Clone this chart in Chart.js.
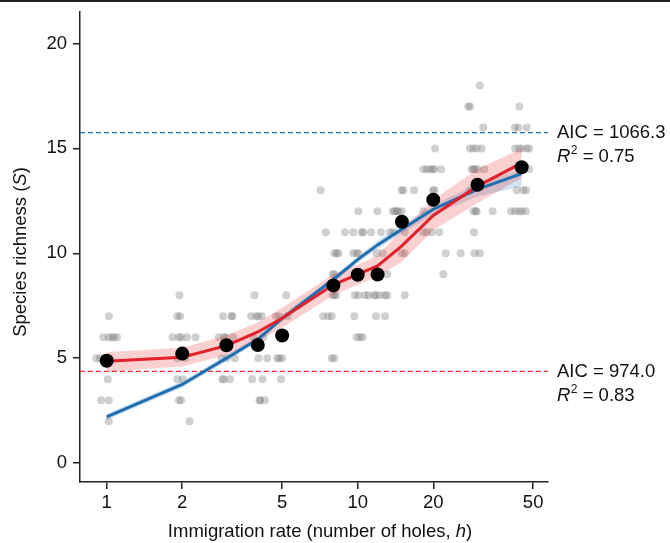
<!DOCTYPE html>
<html lang="en">
<head>
<meta charset="utf-8">
<title>Species richness vs immigration rate</title>
<script src="https://cdn.jsdelivr.net/npm/chart.js@4.4.1/dist/chart.umd.min.js"></script>
<style>
  html, body { margin: 0; padding: 0; background: #fff; }
  #contenedor { width: 670px; height: 543px; }
</style>
</head>
<body>
<div id="contenedor"><canvas id="chartRiqueza" width="670" height="543"></canvas></div>
<script>
// ============================================================================
// Species richness (S) vs immigration rate (holes, h) - log x axis
// ============================================================================

// Mean richness per treatment (black dots)
const holes = [1, 2, 3, 4, 5, 8, 10, 12, 15, 20, 30, 45];
const meanRichness = [4.88, 5.22, 5.62, 5.63, 6.08, 8.47, 8.98, 8.99, 11.5, 12.55, 13.27, 14.1];

// Model fits with their bands
const redFit   = [4.85, 5.05, 5.6, 6.25, 6.9, 8.5, 9.0, 9.4, 10.35, 11.8, 13.2, 14.3];
const redUpper = [5.3, 5.5, 6.1, 6.7, 7.4, 9.0, 9.45, 9.9, 11.1, 12.55, 14.0, 15.0];
const redLower = [4.35, 4.6, 5.15, 5.8, 6.45, 8.0, 8.5, 8.9, 9.6, 11.1, 12.4, 13.6];
const blueFit   = [2.2, 3.75, 5.0, 5.9, 6.9, 8.75, 9.7, 10.4, 11.15, 12.1, 13.05, 13.8];
const blueUpper = [2.35, 3.9, 5.15, 6.05, 7.05, 8.9, 9.85, 10.6, 11.35, 12.3, 13.3, 14.0];
const blueLower = [2.05, 3.6, 4.85, 5.75, 6.75, 8.6, 9.55, 10.2, 10.95, 11.85, 12.7, 13.2];

// Raw replicates (grey, jittered along h)
const grayH = [
  1.02, 0.97, 1.02, 1.05, 1.07, 1.10, 0.91, 0.94, 0.98, 1.03, 1.01, 0.95, 1.02, 1.02,
  1.95, 1.91, 1.96, 1.83, 1.94, 1.98, 2.09, 2.26, 1.92, 2.06, 1.91, 2.01, 1.94, 1.98, 2.14,
  2.91, 3.15, 3.16, 2.80, 2.93, 2.98, 3.19, 2.87, 3.00, 3.24, 2.89, 2.93, 3.10,
  3.88, 3.76, 3.94, 4.02, 4.15, 3.84, 4.21, 4.02, 4.36, 3.80, 4.18, 4.06, 4.09, 4.27,
  5.19, 4.73, 4.88, 5.26, 5.00, 4.78, 4.88, 5.00, 4.95,
  7.12, 7.46, 8.07, 8.25, 8.37, 7.95, 8.07, 7.95, 8.07, 8.20, 7.29, 7.63, 7.88, 7.88, 8.07,
  10.06, 8.90, 9.60, 10.37, 10.53, 11.30, 9.60, 9.91, 10.06, 9.94, 9.75, 10.06, 10.69, 11.02, 9.69, 9.91, 10.21, 10.47,
  11.97, 13.79, 14.30, 12.38, 13.45, 13.86, 11.90, 12.58, 13.12, 11.61, 11.83, 12.27, 12.85, 13.12, 11.83, 12.85,
  14.97, 15.20, 16.76, 14.08, 14.52, 14.97, 15.39, 14.97, 15.39, 15.39,
  20.32, 18.26, 18.83, 19.42, 19.90, 20.20, 21.48, 20.00, 20.20, 18.26, 18.26, 18.83, 19.72, 21.14, 22.42, 25.72, 21.93,
  30.66, 27.58, 28.02, 31.65, 28.02, 28.88, 29.79, 31.19, 28.46, 28.88, 29.33, 30.06, 31.95, 28.02, 28.88, 29.52, 29.79, 34.50, 29.06, 29.14, 30.66,
  44.04, 42.33, 43.63, 47.13, 42.33, 43.92, 45.02, 47.13, 48.14, 45.20, 48.14, 43.00, 45.67, 46.83, 40.82, 42.33, 43.92, 45.02, 46.70
];
const grayS = [
  7, 6, 6, 6, 6, 6, 5, 5, 5, 5, 4, 3, 3, 2,
  8, 7, 7, 6, 6, 6, 6, 6, 5, 5, 4, 4, 3, 3, 2,
  7, 7, 7, 6, 6, 6, 6, 5, 5, 5, 4, 4, 4,
  8, 7, 7, 7, 7, 6, 6, 5, 5, 4, 4, 3, 3, 3,
  8, 7, 7, 7, 6, 5, 5, 5, 4,
  13, 11, 10, 10, 10, 9, 9, 8, 8, 8, 7, 7, 7, 5, 5,
  12, 11, 11, 11, 11, 11, 10, 10, 10, 9, 8, 8, 8, 8, 7, 6, 6, 6,
  12, 12, 12, 11, 11, 11, 10, 10, 9, 8, 8, 8, 8, 8, 7, 7,
  13, 13, 13, 12, 12, 12, 11, 10, 10, 8,
  15, 14, 14, 14, 14, 14, 14, 13, 13, 12, 11, 11, 11, 11, 10, 10, 9,
  18, 17, 17, 16, 15, 15, 15, 15, 14, 14, 14, 14, 14, 13, 12, 12, 12, 12, 11, 10, 10,
  17, 16, 16, 16, 15, 15, 15, 15, 15, 14, 14, 13, 13, 13, 12, 12, 12, 12, 12
];

// Axes
const xTicks = [1, 2, 5, 10, 20, 50];
const yTicks = [0, 5, 10, 15, 20];
const xRange = [0.783, 57.3];
const yRange = [-0.9, 21.5];

// Dashed reference levels and model statistics (blue, red)
const refLevels = [15.75, 4.37];
const aicLabels = ["1066.3", "974.0"];
const r2Labels = ["0.75", "0.83"];

const FUENTE = "'Liberation Sans', Arial, Helvetica, sans-serif";
const TAM = 18.5;
const AZUL = "#1f6eb0";
const ROJO = "#e4202a";

const pares = (xs, ys) => xs.map((x, i) => ({ x, y: ys[i] }));

// ---------------------------------------------------------------------------
// Axis titles (with italic symbols), AIC / R2 labels and the top rule
// ---------------------------------------------------------------------------
function dibujarPartes(ctx, partes, x, y) {
  let total = 0;
  partes.forEach((p) => { ctx.font = p.font; total += ctx.measureText(p.t).width; });
  let xx = x - total / 2;
  partes.forEach((p) => {
    ctx.font = p.font;
    ctx.fillText(p.t, xx, y);
    xx += ctx.measureText(p.t).width;
  });
}

const textoExtra = {
  id: "textoExtra",
  afterDraw(chart) {
    const { ctx, chartArea, scales } = chart;
    const normal = TAM + "px " + FUENTE;
    const italica = "italic " + TAM + "px " + FUENTE;
    ctx.save();
    ctx.fillStyle = "#111";
    ctx.textBaseline = "middle";
    ctx.textAlign = "left";

    // x title
    dibujarPartes(ctx, [
      { t: "Immigration rate (number of holes, ", font: normal },
      { t: "h", font: italica },
      { t: ")", font: normal }
    ], (chartArea.left + chartArea.right) / 2 + 6, 532);

    // y title
    ctx.save();
    ctx.translate(21, (chartArea.top + chartArea.bottom) / 2 + 5);
    ctx.rotate(-Math.PI / 2);
    dibujarPartes(ctx, [
      { t: "Species richness (", font: normal },
      { t: "S", font: italica },
      { t: ")", font: normal }
    ], 0, 0);
    ctx.restore();

    // model statistics
    refLevels.forEach((nivel, i) => {
      const x = chartArea.right + 9;
      const y = scales.y.getPixelForValue(nivel);
      ctx.font = normal;
      ctx.fillText("AIC = " + aicLabels[i], x, y);
      const y2 = y + 24;
      ctx.font = italica;
      ctx.fillText("R", x, y2);
      let xx = x + ctx.measureText("R").width + 0.5;
      ctx.font = "12px " + FUENTE;
      ctx.fillText("2", xx, y2 - 6);
      xx += ctx.measureText("2").width;
      ctx.font = normal;
      ctx.fillText(" = " + r2Labels[i], xx, y2);
    });

    // rule along the top edge
    ctx.strokeStyle = "#222";
    ctx.lineWidth = 2;
    ctx.beginPath();
    ctx.moveTo(0, 1);
    ctx.lineTo(chart.width, 1);
    ctx.stroke();
    ctx.restore();
  }
};

document.addEventListener("DOMContentLoaded", () => {
  const ctx = document.getElementById("chartRiqueza").getContext("2d");

  new Chart(ctx, {
    type: "line",
    data: {
      datasets: [
        { // 0 means
          data: pares(holes, meanRichness), showLine: false, order: 0,
          pointRadius: 7, pointBackgroundColor: "#000", pointBorderWidth: 0
        },
        { // 1 red fit
          data: pares(holes, redFit), order: 1, borderColor: ROJO, borderWidth: 3,
          pointRadius: 0, fill: false, tension: 0
        },
        { // 2 blue fit
          data: pares(holes, blueFit), order: 2, borderColor: AZUL, borderWidth: 3,
          pointRadius: 0, fill: false, tension: 0
        },
        { // 3 red band
          data: pares(holes, redUpper), order: 3, borderWidth: 0, borderColor: "rgba(0,0,0,0)",
          backgroundColor: "rgba(235,60,60,0.24)", pointRadius: 0, fill: "+1"
        },
        { // 4
          data: pares(holes, redLower), order: 3, borderWidth: 0, borderColor: "rgba(0,0,0,0)",
          pointRadius: 0, fill: false
        },
        { // 5 blue band
          data: pares(holes, blueUpper), order: 4, borderWidth: 0, borderColor: "rgba(0,0,0,0)",
          backgroundColor: "rgba(60,140,200,0.25)", pointRadius: 0, fill: "+1"
        },
        { // 6
          data: pares(holes, blueLower), order: 4, borderWidth: 0, borderColor: "rgba(0,0,0,0)",
          pointRadius: 0, fill: false
        },
        { // 7 blue dashed level
          data: pares(xRange, [refLevels[0], refLevels[0]]), order: 5, borderColor: AZUL,
          borderWidth: 1.3, borderDash: [5, 3], pointRadius: 0, fill: false
        },
        { // 8 red dashed level
          data: pares(xRange, [refLevels[1], refLevels[1]]), order: 5, borderColor: "#f2353b",
          borderWidth: 1.4, borderDash: [5, 3], pointRadius: 0, fill: false
        },
        { // 9 raw replicates
          data: pares(grayH, grayS), showLine: false, order: 6,
          pointRadius: 4, pointBackgroundColor: "rgba(120,120,120,0.35)", pointBorderWidth: 0
        }
      ]
    },
    options: {
      responsive: false,
      animation: false,
      events: [],
      devicePixelRatio: 1,
      layout: { padding: { top: 12, right: 122, left: 0, bottom: 0 } },
      plugins: { legend: { display: false }, tooltip: { enabled: false } },
      scales: {
        x: {
          type: "logarithmic",
          min: xRange[0],
          max: xRange[1],
          afterBuildTicks: (s) => { s.ticks = xTicks.map((v) => ({ value: v })); },
          afterFit: (s) => { s.height = 61; s.paddingLeft = 0; s.paddingRight = 0; },
          ticks: {
            callback: (v) => String(v),
            color: "#111",
            font: { family: FUENTE, size: TAM },
            padding: 3,
            maxRotation: 0,
            autoSkip: false
          },
          grid: { drawOnChartArea: false, drawTicks: true, tickLength: 7, color: "#222", lineWidth: 1.5 },
          border: { display: true, color: "#222", width: 1.5 }
        },
        y: {
          type: "linear",
          min: yRange[0],
          max: yRange[1],
          afterBuildTicks: (s) => { s.ticks = yTicks.map((v) => ({ value: v })); },
          afterFit: (s) => { s.width = 80; s.paddingTop = 0; s.paddingBottom = 0; },
          ticks: {
            color: "#111",
            font: { family: FUENTE, size: TAM },
            padding: 6
          },
          grid: { drawOnChartArea: false, drawTicks: true, tickLength: 7, color: "#222", lineWidth: 1.5 },
          border: { display: true, color: "#222", width: 1.5 }
        }
      }
    },
    plugins: [textoExtra]
  });
});
</script>
</body>
</html>
